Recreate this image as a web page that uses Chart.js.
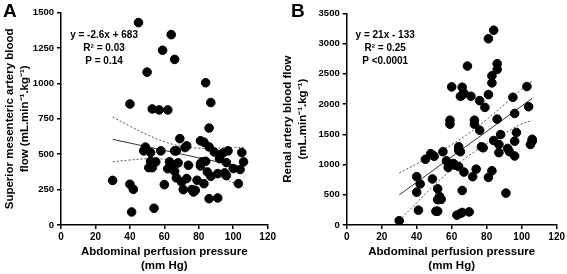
<!DOCTYPE html>
<html>
<head>
<meta charset="utf-8">
<script src="https://cdn.jsdelivr.net/npm/chart.js@4.4.1/dist/chart.umd.min.js"></script>
<style>
  body { margin: 0; background: #fff; }
  #wrap { position: relative; width: 567px; height: 274px; overflow: hidden; }
  canvas { position: absolute; top: 0; }
  .panel { position: absolute; top: 0; font: bold 19px "Liberation Sans", Arial, sans-serif; }
</style>
</head>
<body>
<div id="wrap">
  <canvas id="chartA" width="278" height="274" style="left:0"></canvas>
  <canvas id="chartB" width="289" height="274" style="left:278px"></canvas>
  <div class="panel" style="left:3px">A</div>
  <div class="panel" style="left:291px">B</div>
</div>
<script>
// panel A: superior mesenteric artery blood flow vs abdominal perfusion pressure
const pressureA = [45, 64, 59, 66, 50, 84, 87, 40, 53, 57, 62, 86, 69, 81, 83, 30, 40, 42, 41, 54,
  48, 49, 52, 52, 55, 51, 53, 58, 60, 63, 62, 65, 66, 67, 66, 67, 68, 70, 71, 72,
  73, 74, 73, 76, 77, 78, 79, 81, 82, 84, 81, 83, 85, 86, 87, 86, 91, 89, 91, 92,
  94, 97, 96, 95, 96, 100, 104, 105, 106, 103];
const flowA = [1430, 1345, 1235, 1170, 1080, 1005, 865, 855, 820, 813, 813, 685, 610, 595, 585, 315, 288, 252, 92, 118,
  524, 550, 512, 450, 446, 405, 405, 524, 285, 446, 398, 410, 380, 333, 524, 524, 439, 304, 250, 547,
  559, 422, 328, 250, 233, 245, 316, 434, 446, 450, 417, 292, 375, 552, 344, 186, 191, 516, 363, 469,
  509, 524, 441, 368, 349, 399, 392, 512, 446, 292];

// panel B: renal artery blood flow vs abdominal perfusion pressure
const pressureB = [84, 81, 86, 86, 83, 83, 69, 60, 66, 67, 65, 66, 71, 81, 76, 79, 95, 103, 104, 96,
  86, 73, 73, 59, 59, 76, 88, 84, 97, 106, 77, 78, 87, 87, 96, 92, 93, 96, 105, 106,
  64, 64, 65, 55, 48, 49, 50, 45, 57, 61, 62, 64, 58, 67, 74, 83, 72, 81, 40, 42,
  49, 40, 52, 53, 54, 52, 66, 91, 41, 51, 52, 63, 65, 66, 70, 30];
const flowB = [3220, 3080, 2667, 2572, 2467, 2350, 2628, 2283, 2278, 2178, 2128, 2150, 2128, 2156, 2056, 1944, 2111, 2289, 1956, 1844,
  1750, 1733, 1667, 1733, 1667, 1567, 1495, 1397, 1530, 1417, 1293, 1277, 1331, 1196, 1386, 1266, 1212, 1141, 1331, 1386,
  1293, 1234, 1212, 1212, 1179, 1158, 1136, 1087, 1060, 1016, 989, 967, 951, 875, 924, 897, 799, 788, 799, 679,
  761, 543, 598, 473, 424, 418, 571, 527, 245, 228, 228, 163, 190, 207, 217, 71];

// regression lines and 95% bands
const fitX = [30, 106];
const fitA = [605, 407];
const fitB = [497, 2093];
const bandX = [30, 40, 50, 60, 70, 80, 90, 100, 106];
const upperA = [763, 699, 638, 589, 556, 543, 544, 548, 547];
const lowerA = [447, 459, 468, 465, 446, 407, 354, 298, 267];
const upperB = [860, 1010, 1165, 1330, 1520, 1745, 1990, 2240, 2380];
const lowerB = [70, 370, 655, 920, 1150, 1345, 1515, 1670, 1730];

const statsA = ['y = -2.6x + 683', 'R\u00b2 = 0.03', 'P = 0.14'];
const statsB = ['y = 21x - 133', 'R\u00b2 = 0.25', 'P <0.0001'];

const FONT = '"Liberation Sans", Arial, sans-serif';

const toPoints = (xs, ys) => xs.map((x, i) => ({ x: x, y: ys[i] }));

// stats text, centred at a data position
const statsPlugin = {
  id: 'stats',
  afterDraw(chart, args, opts) {
    const ctx = chart.ctx;
    const cx = chart.scales.x.getPixelForValue(opts.x);
    const cy = chart.scales.y.getPixelForValue(opts.y);
    ctx.save();
    ctx.font = 'bold 10px ' + FONT;
    ctx.fillStyle = '#000';
    ctx.textAlign = 'center';
    ctx.textBaseline = 'middle';
    opts.lines.forEach((t, i) => ctx.fillText(t, cx, cy + i * 13));
    ctx.restore();
  }
};

function makeChart(id, xs, ys, fit, upper, lower, yMax, yStep, yTitle, stats, yWidth, padRight, padTop) {
  return new Chart(document.getElementById(id), {
    type: 'scatter',
    data: {
      datasets: [
        {
          data: toPoints(xs, ys),
          backgroundColor: '#000',
          borderColor: '#000',
          pointRadius: 4.3,
          order: 0
        },
        {
          data: toPoints(fitX, fit),
          showLine: true,
          borderColor: '#333',
          borderWidth: 1,
          pointRadius: 0,
          order: 1
        },
        {
          data: toPoints(bandX, upper),
          showLine: true,
          borderColor: '#555',
          borderWidth: 1,
          borderDash: [2, 2],
          tension: 0.4,
          pointRadius: 0,
          order: 1
        },
        {
          data: toPoints(bandX, lower),
          showLine: true,
          borderColor: '#555',
          borderWidth: 1,
          borderDash: [2, 2],
          tension: 0.4,
          pointRadius: 0,
          order: 1
        }
      ]
    },
    options: {
      responsive: false,
      animation: false,
      layout: { padding: { left: 0, right: padRight, top: padTop, bottom: 0 } },
      plugins: {
        legend: { display: false },
        tooltip: { enabled: false },
        stats: stats
      },
      scales: {
        x: {
          min: 0,
          max: 120,
          ticks: {
            stepSize: 20, color: '#000', padding: 2,
            font: { family: FONT, size: 10, weight: 'bold' },
            callback: (v) => String(v)
          },
          grid: { drawOnChartArea: false, drawTicks: true, tickLength: 4, color: '#000', lineWidth: 1.5 },
          border: { color: '#000', width: 1.5 },
          title: {
            display: true,
            text: ['Abdominal perfusion pressure', '(mm Hg)'],
            color: '#000',
            padding: { top: 0, bottom: 1 },
            font: { family: FONT, size: 11.5, weight: 'bold', lineHeight: 1.2 }
          },
          afterFit: (scale) => { scale.height = 49; }
        },
        y: {
          min: 0,
          max: yMax,
          ticks: {
            stepSize: yStep, color: '#000', padding: 3,
            font: { family: FONT, size: 9.5, weight: 'bold' },
            callback: (v) => String(v)
          },
          grid: { drawOnChartArea: false, drawTicks: true, tickLength: 4, color: '#000', lineWidth: 1.5 },
          border: { color: '#000', width: 1.5 },
          title: {
            display: true,
            text: yTitle,
            color: '#000',
            padding: { top: 2, bottom: 0 },
            font: { family: FONT, size: 11.5, weight: 'bold', lineHeight: 1.3 }
          },
          afterFit: (scale) => { scale.width = yWidth; }
        }
      }
    },
    plugins: [statsPlugin]
  });
}

makeChart('chartA', pressureA, flowA, fitA, upperA, lowerA, 1500, 250,
  ['Superior mesenteric artery blood', 'flow (mL.min\u207b\u00b9.kg\u207b\u00b9)'],
  { x: 25, y: 1342, lines: statsA }, 61, 5, 12.7);

makeChart('chartB', pressureB, flowB, fitB, upperB, lowerB, 3500, 500,
  ['Renal artery blood flow', '(mL.min\u207b\u00b9.kg\u207b\u00b9)'],
  { x: 22, y: 3141, lines: statsB }, 68.7, 8.7, 13.3);
</script>
</body>
</html>
